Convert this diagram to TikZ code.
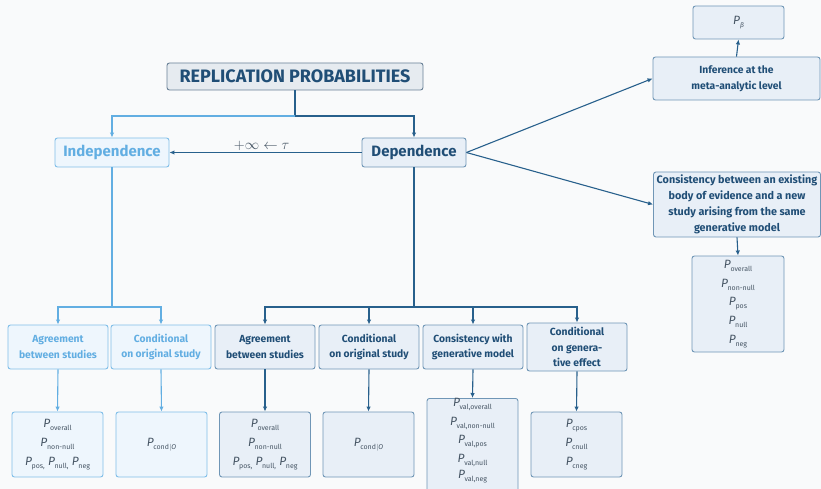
\documentclass[tikz,border=0pt]{standalone}
\usepackage{fontspec}
\setmainfont{Fira Sans}
\usetikzlibrary{arrows.meta}
\definecolor{bg}{RGB}{249,250,251}
\definecolor{dk}{RGB}{40,96,140}
\definecolor{dktext}{RGB}{32,78,118}
\definecolor{lt}{RGB}{98,174,226}
\definecolor{dkfill}{RGB}{232,239,247}
\definecolor{dkdraw}{RGB}{112,150,182}
\definecolor{ltfill}{RGB}{238,246,253}
\definecolor{ltdraw}{RGB}{128,190,232}
\definecolor{ttfill}{RGB}{230,235,240}
\definecolor{ttdraw}{RGB}{105,128,150}
\definecolor{ptext}{RGB}{70,85,100}
\newcommand\PP[1]{\textit{P}\kern-0.3pt\raisebox{-0.45ex}{\fontsize{7}{7}\selectfont #1}}
\tikzset{
  x=1pt,y=-1pt,
  box/.style={draw=dkdraw,fill=dkfill,rounded corners=2.5pt,line width=0.9pt,inner sep=0pt,align=center,text=dktext,font=\fontsize{10.3}{15.8}\selectfont\bfseries},
  lbox/.style={box,draw=ltdraw,fill=ltfill,text=lt},
  pbox/.style={box,font=\fontsize{12}{18.8}\selectfont,text=ptext,minimum width=91pt},
  lpbox/.style={pbox,draw=ltdraw,fill=ltfill},
  dline/.style={draw=dk,line width=1.1pt},
  lline/.style={draw=lt,line width=1.1pt},
  arr/.style={-{Latex[length=5pt,width=4.5pt]}},
}
\begin{document}
\begin{tikzpicture}
\fill[bg] (0,0) rectangle (821,489);
\useasboundingbox (0,0) rectangle (821,489);
% top
\node[box,draw=ttdraw,fill=ttfill,minimum width=256pt,minimum height=27pt,font=\fontsize{18}{20}\selectfont\bfseries] (title) at (295,76.5) {REPLICATION PROBABILITIES};
\node[lbox,minimum width=114pt,minimum height=29pt,font=\fontsize{15}{17}\selectfont\bfseries] (ind) at (112,152.5) {Independence};
\node[box,minimum width=104pt,minimum height=29pt,font=\fontsize{15}{17}\selectfont\bfseries] (dep) at (414,152.5) {Dependence};
% right
\node[pbox,minimum height=33pt] (pbeta) at (738.5,22.5) {\textit{P}\raisebox{-0.45ex}{\fontsize{6.5}{7}\selectfont\textit{β}}};
\node[box,minimum width=167pt,minimum height=43pt] (infer) at (736.5,78.5) {Inference at the\\meta-analytic level};
\node[box,minimum width=167pt,minimum height=65pt,font=\fontsize{10.8}{15.8}\selectfont\bfseries] (consis) at (737,204.5) {Consistency between an existing\\body of evidence and a new\\study arising from the same\\generative model};
\node[pbox,minimum width=92pt,minimum height=96pt] (rp) at (738,304) {\PP{overall}\\\PP{non-null}\\\PP{pos}\\\PP{null}\\\PP{neg}};
% second level
\node[lbox,minimum width=100pt,minimum height=44pt] (a1) at (58,347) {Agreement\\between studies};
\node[lbox,minimum width=100pt,minimum height=44pt] (a2) at (161,347) {Conditional\\on original study};
\node[box,minimum width=100pt,minimum height=44pt] (b1) at (265,347) {Agreement\\between studies};
\node[box,minimum width=100pt,minimum height=44pt] (b2) at (369,347) {Conditional\\on original study};
\node[box,minimum width=100pt,minimum height=44pt] (b3) at (473,347) {Consistency with\\generative model};
\node[box,minimum width=100pt,minimum height=48pt,font=\fontsize{10.3}{15.3}\selectfont\bfseries] (b4) at (577,347) {Conditional\\on genera-\\tive effect};
% bottom
\node[lpbox,minimum height=65pt] (p1) at (57.5,444.5) {\PP{overall}\\\PP{non-null}\\\PP{pos,} \PP{null,} \PP{neg}};
\node[lpbox,minimum height=65pt] (p2) at (161.5,444.5) {\PP{cond$|$\textit{O}}};
\node[pbox,minimum height=65pt] (p3) at (265,444.5) {\PP{overall}\\\PP{non-null}\\\PP{pos,} \PP{null,} \PP{neg}};
\node[pbox,minimum height=65pt] (p4) at (368.5,444.5) {\PP{cond$|$\textit{O}}};
\node[pbox,minimum height=98pt,font=\fontsize{12}{18.5}\selectfont,anchor=north] (p5) at (472.5,398) {\PP{val,overall}\\\PP{val,non-null}\\\PP{val,pos}\\\PP{val,null}\\[-2pt]\PP{val,neg}\\[16pt]};
\node[pbox,minimum height=65pt] (p6) at (576.5,444.5) {\PP{cpos}\\\PP{cnull}\\\PP{cneg}};
% connectors
\coordinate (j1) at (295,116);
\coordinate (j2) at (112,307);
\coordinate (j3) at (414,307);
\draw[dline] (title.south) -- (j1);
\draw[lline,arr] (j1) -| (ind.north);
\draw[dline,arr] (j1) -| (dep.north);
\draw[dline,arr] (dep.west) -- node[above,text=ptext,font=\fontsize{14.5}{15}\selectfont,pos=0.52,yshift=-1.5pt]{$+\infty\leftarrow\tau$} (ind.east);
\draw[dline,arr] (dep.east) -- (infer.west);
\draw[dline,arr] (dep.east) -- (consis.west);
\draw[dline,arr] (infer.north) -- (pbeta.south);
\draw[dline,arr] (consis.south) -- (rp.north);
\draw[lline] (ind.south) -- (j2);
\draw[lline,arr] (j2) -| (a1.north);
\draw[lline,arr] (j2) -| (a2.north);
\draw[dline] (dep.south) -- (j3);
\draw[dline,arr] (j3) -| (b1.north);
\draw[dline,arr] (j3) -| (b2.north);
\draw[dline,arr] (j3) -| (b3.north);
\draw[dline,arr] (j3) -| (b4.north);
\draw[lline,arr] (a1.south) -- (p1.north);
\draw[lline,arr] (a2.south) -- (p2.north);
\draw[dline,arr] (b1.south) -- (p3.north);
\draw[dline,arr] (b2.south) -- (p4.north);
\draw[dline,arr] (b3.south) -- (p5.north);
\draw[dline,arr] (b4.south) -- (p6.north);
\end{tikzpicture}
\end{document}
